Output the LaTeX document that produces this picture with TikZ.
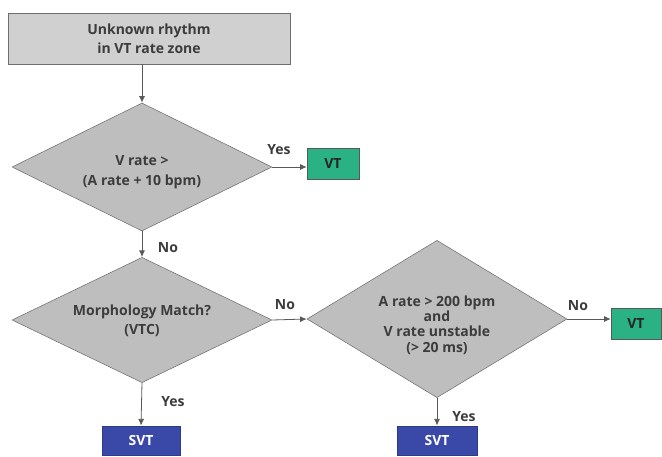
\documentclass[tikz,border=0pt]{standalone}
\usepackage{fontspec}
\setmainfont{Open Sans}
\usetikzlibrary{shapes.geometric,arrows.meta}
\definecolor{boxgray}{RGB}{208,208,208}
\definecolor{diagray}{RGB}{190,190,190}
\definecolor{edgegray}{RGB}{110,110,110}
\definecolor{txtgray}{RGB}{60,60,60}
\definecolor{vtgreen}{RGB}{42,178,132}
\definecolor{svtblue}{RGB}{58,72,168}
\tikzset{
  every node/.style={font=\bfseries\fontsize{10.5}{14}\selectfont},
  startbox/.style={rectangle,draw=edgegray,fill=boxgray,text=txtgray,align=center,inner sep=0pt},
  decision/.style={diamond,draw=edgegray,fill=diagray,inner sep=0pt,aspect=2},
  dtext/.style={text=txtgray,align=center,inner sep=0pt},
  vtbox/.style={rectangle,draw=edgegray!80!black,fill=vtgreen,text=black!85,inner sep=0pt,minimum width=39pt,minimum height=23pt},
  svtbox/.style={rectangle,draw=svtblue!80!black,fill=svtblue,text=white,inner sep=0pt,minimum height=22pt},
  conn/.style={draw=black!65,line width=0.6pt,-{Latex[length=5pt,width=4.5pt]}},
  lbl/.style={text=txtgray,inner sep=0pt}
}
\begin{document}
\begin{tikzpicture}[x=0.75pt,y=-0.75pt]
\useasboundingbox (0,0) rectangle (662,457);
\node[startbox,minimum width=211.5pt,minimum height=38pt] (start) at (149,38.5) {Unknown rhythm\\in VT rate zone};
\node[decision,minimum width=195pt,minimum height=96pt] (d1) at (142,167) {};
\node[dtext,font=\bfseries\fontsize{10.5}{15}\selectfont] (d1t) at (142,172) {V rate >\\(A rate + 10 bpm)};
\node[vtbox] (vt1) at (333,164) {VT};
\node[decision,minimum width=195pt,minimum height=94pt] (d2) at (142,320) {};
\node[dtext] (d2t) at (142,321) {Morphology Match?\\(VTC)};
\node[decision,minimum width=195pt,minimum height=118pt] (d3) at (437,319) {};
\node[dtext,font=\bfseries\fontsize{10.5}{11.5}\selectfont] (d3t) at (437,325) {A rate > 200 bpm\\and\\V rate unstable\\(> 20 ms)};
\node[vtbox,minimum width=37.5pt] (vt2) at (636,324) {VT};
\node[svtbox,minimum width=58.5pt] (svt1) at (141,440.5) {SVT};
\node[svtbox,minimum width=60pt] (svt2) at (437,440.5) {SVT};
\coordinate (s1) at (142,64);
\draw[conn] (s1) -- (d1.north);
\draw[conn] (d1.east) -- (d1.east -| vt1.west);
\draw[conn] (d1.south) -- (d2.north);
\draw[conn] (d2.east) -- (d3.west);
\draw[conn] (d3.east) -- (d3.east -| vt2.west);
\draw[conn] (d2.south) -- (svt1.north);
\draw[conn] (d3.south) -- (d3.south |- svt2.north);
\node[lbl] (l1) at (279,150) {Yes};
\node[lbl] (l2) at (168,248) {No};
\node[lbl] (l3) at (285,305) {No};
\node[lbl] (l4) at (173,402) {Yes};
\node[lbl] (l5) at (578,306) {No};
\node[lbl] (l6) at (464,417) {Yes};
\end{tikzpicture}
\end{document}
